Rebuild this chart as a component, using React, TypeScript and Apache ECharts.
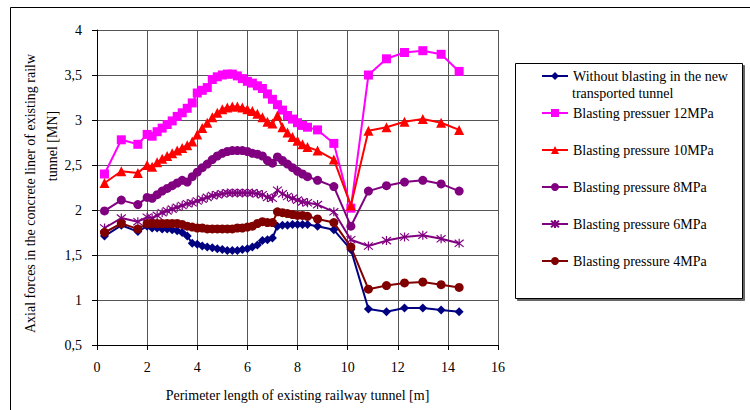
import React, { useEffect, useRef } from 'react';
import * as echarts from 'echarts';

// Perimeter length [m]
const xValues = [
  0.3, 0.97, 1.63,
  2.0, 2.2, 2.4, 2.6, 2.8, 3.0, 3.2, 3.4, 3.6, 3.8, 4.0, 4.2, 4.4, 4.6, 4.8, 5.0, 5.2,
  5.4, 5.6, 5.8, 6.0, 6.2, 6.4, 6.6, 6.8, 7.0, 7.2, 7.4, 7.6, 7.8, 8.0, 8.2, 8.4,
  8.8, 9.45, 10.13, 10.83, 11.55, 12.27, 13.0, 13.73, 14.45,
];

const withoutBlasting = [
  1.71, 1.83, 1.76,
  1.82, 1.80, 1.80, 1.79, 1.79, 1.78, 1.77, 1.75, 1.71, 1.63, 1.62, 1.60, 1.59, 1.58, 1.57, 1.56, 1.55,
  1.55, 1.55, 1.56, 1.57, 1.59, 1.61, 1.66, 1.67, 1.69, 1.82, 1.83, 1.83, 1.84, 1.84, 1.84, 1.84,
  1.82, 1.78, 1.56, 0.90, 0.87, 0.91, 0.91, 0.89, 0.87,
];

const pressure12 = [
  2.40, 2.78, 2.73,
  2.84, 2.82, 2.87, 2.91, 2.95, 2.99, 3.04, 3.08, 3.13, 3.19, 3.30, 3.33, 3.36, 3.45, 3.48, 3.50, 3.51,
  3.51, 3.49, 3.46, 3.43, 3.41, 3.38, 3.35, 3.29, 3.23, 3.17, 3.11, 3.05, 3.01, 2.97, 2.94, 2.92,
  2.89, 2.74, 2.02, 3.50, 3.68, 3.75, 3.77, 3.73, 3.54,
];

const pressure10 = [
  2.30, 2.43, 2.41,
  2.50, 2.48, 2.53, 2.57, 2.60, 2.63, 2.66, 2.69, 2.72, 2.76, 2.84, 2.91, 2.97, 3.03, 3.08, 3.12, 3.14,
  3.15, 3.15, 3.14, 3.12, 3.10, 3.07, 3.03, 2.98, 2.96, 3.05, 2.92, 2.86, 2.81, 2.77, 2.73, 2.70,
  2.66, 2.56, 2.05, 2.88, 2.92, 2.98, 3.01, 2.97, 2.89,
];

const pressure8 = [
  1.99, 2.11, 2.06,
  2.14, 2.13, 2.17, 2.21, 2.24, 2.27, 2.30, 2.33, 2.31, 2.37, 2.42, 2.47, 2.51, 2.56, 2.60, 2.63, 2.65,
  2.66, 2.66, 2.66, 2.65, 2.63, 2.62, 2.60, 2.55, 2.52, 2.59, 2.55, 2.51, 2.47, 2.43, 2.40, 2.37,
  2.33, 2.26, 1.82, 2.21, 2.27, 2.31, 2.33, 2.29, 2.21,
];

const pressure6 = [
  1.80, 1.91, 1.87,
  1.92, 1.91, 1.94, 1.97, 1.99, 2.01, 2.03, 2.05, 2.07, 2.08, 2.10, 2.12, 2.14, 2.16, 2.17, 2.18, 2.19,
  2.19, 2.19, 2.19, 2.19, 2.19, 2.18, 2.17, 2.14, 2.13, 2.22, 2.18, 2.15, 2.13, 2.11, 2.09, 2.08,
  2.06, 1.98, 1.67, 1.60, 1.66, 1.70, 1.72, 1.68, 1.63,
];

const pressure4 = [
  1.75, 1.85, 1.79,
  1.85, 1.85, 1.85, 1.85, 1.85, 1.85, 1.85, 1.84, 1.82, 1.81, 1.80, 1.80, 1.79, 1.79, 1.79, 1.79, 1.79,
  1.79, 1.80, 1.80, 1.81, 1.82, 1.85, 1.87, 1.86, 1.86, 1.98, 1.97, 1.96, 1.95, 1.94, 1.94, 1.93,
  1.90, 1.86, 1.59, 1.12, 1.16, 1.19, 1.20, 1.17, 1.14,
];

const seriesNames = [
  'Without blasting in the new transported tunnel',
  'Blasting pressuer 12MPa',
  'Blasting pressure 10MPa',
  'Blasting pressure 8MPa',
  'Blasting pressure 6MPa',
  'Blasting pressure 4MPa',
];

const xTitle = 'Perimeter length of existing railway tunnel [m]';
const yTitleLine1 = 'Axial forces in the concrete liner of existing railw';
const yTitleLine2 = 'tunnel [MN]';

const FONT = "'Liberation Serif', 'Times New Roman', serif";
const STAR = 'path://M5,0L5,10M1,1L9,9M1,9L9,1';

export default function App() {
  const ref = useRef<HTMLDivElement>(null);

  useEffect(() => {
    if (!ref.current) return;
    const chart = echarts.init(ref.current, null, { renderer: 'svg' });

    const mk = (
      name: string,
      values: number[],
      color: string,
      symbol: string,
      size: number,
      extraItem: any = {}
    ) => ({
      name,
      type: 'line',
      data: xValues.map((x, i) => [x, values[i]]),
      symbol,
      symbolSize: size,
      showSymbol: true,
      lineStyle: { color, width: 2 },
      itemStyle: { color, ...extraItem },
      emphasis: { disabled: true },
      animation: false,
    });

    const series = [
      mk(seriesNames[0], withoutBlasting, '#000080', 'diamond', 9),
      mk(seriesNames[1], pressure12, '#FF00FF', 'rect', 9),
      mk(seriesNames[2], pressure10, '#FF0000', 'triangle', 10),
      mk(seriesNames[3], pressure8, '#800080', 'circle', 9),
      mk(seriesNames[4], pressure6, '#800080', STAR, 9, { borderColor: '#800080', borderWidth: 1.2 }),
      mk(seriesNames[5], pressure4, '#800000', 'circle', 9),
    ];

    chart.setOption({
      animation: false,
      backgroundColor: '#ffffff',
      grid: { left: 97, top: 30, width: 401, height: 315, containLabel: false },
      xAxis: {
        type: 'value',
        min: 0,
        max: 16,
        interval: 2,
        name: xTitle,
        nameLocation: 'middle',
        nameGap: 43,
        nameTextStyle: { fontFamily: FONT, fontSize: 14, color: '#000' },
        axisLine: { show: true, lineStyle: { color: '#000', width: 1 } },
        axisTick: { show: true, inside: false, length: 5, lineStyle: { color: '#000' } },
        axisLabel: { fontFamily: FONT, fontSize: 14, color: '#000', margin: 15 },
        splitLine: { show: true, lineStyle: { color: '#555', width: 1 } },
      },
      yAxis: {
        type: 'value',
        min: 0.5,
        max: 4,
        interval: 0.5,
        axisLine: { show: true, lineStyle: { color: '#000', width: 1 } },
        axisTick: { show: true, inside: false, length: 5, lineStyle: { color: '#000' } },
        axisLabel: {
          fontFamily: FONT,
          fontSize: 14,
          color: '#000',
          margin: 15,
          formatter: (v: number) => String(v).replace('.', ','),
        },
        splitLine: { show: true, lineStyle: { color: '#555', width: 1 } },
      },
      legend: {
        orient: 'vertical',
        left: 541,
        top: 67.5,
        itemWidth: 26,
        itemHeight: 10,
        itemGap: 20,
        padding: 0,
        selectedMode: false,
        data: seriesNames,
        formatter: (name: string) =>
          name === seriesNames[0] ? 'Without blasting in the new' : name,
        textStyle: { fontFamily: FONT, fontSize: 14, color: '#000', lineHeight: 17 },
      },
      graphic: [
        {
          type: 'rect',
          z: -10,
          silent: true,
          shape: { x: 10.5, y: 7.5, width: 760, height: 420 },
          style: { fill: 'none', stroke: '#000', lineWidth: 1 },
        },
        {
          type: 'rect',
          z: 0,
          silent: true,
          shape: { x: 517.5, y: 65.5, width: 227, height: 235 },
          style: { fill: '#666', stroke: '#666', lineWidth: 1 },
        },
        {
          type: 'rect',
          z: 0,
          silent: true,
          shape: { x: 515.5, y: 63.5, width: 227, height: 235 },
          style: { fill: '#fff', stroke: '#000', lineWidth: 1 },
        },
        {
          type: 'text',
          z: 10,
          silent: true,
          x: 572,
          y: 93,
          style: {
            text: 'transported tunnel',
            fontFamily: FONT,
            fontSize: 14,
            fill: '#000',
            align: 'left',
            verticalAlign: 'middle',
          },
        },
        {
          type: 'text',
          z: 10,
          silent: true,
          x: 30,
          y: 333,
          rotation: Math.PI / 2,
          style: {
            text: yTitleLine1,
            fontFamily: FONT,
            fontSize: 14,
            fill: '#000',
            align: 'left',
            verticalAlign: 'middle',
          },
        },
        {
          type: 'text',
          z: 10,
          silent: true,
          x: 52,
          y: 146,
          rotation: Math.PI / 2,
          style: {
            text: yTitleLine2,
            fontFamily: FONT,
            fontSize: 14,
            fill: '#000',
            align: 'center',
            verticalAlign: 'middle',
          },
        },
      ],
      series,
    });

    return () => chart.dispose();
  }, []);

  return (
    <div
      ref={ref}
      style={{ position: 'fixed', left: 0, top: 0, width: 750, height: 410, background: '#fff' }}
    />
  );
}
